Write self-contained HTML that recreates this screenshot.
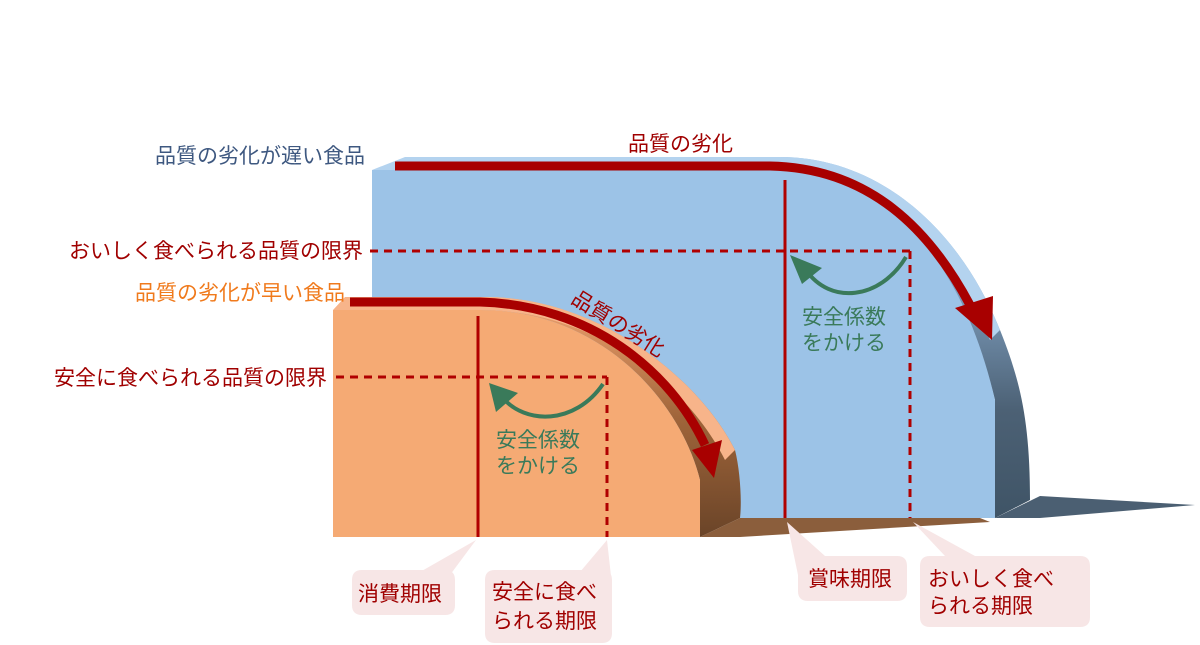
<!DOCTYPE html>
<html><head><meta charset="utf-8"><style>
html,body{margin:0;padding:0;background:#fff;width:1200px;height:645px;overflow:hidden}
svg{display:block}
text{font-family:"Liberation Sans","Noto Sans CJK JP",sans-serif}
</style></head><body>
<svg width="1200" height="645" viewBox="0 0 1200 645" xmlns="http://www.w3.org/2000/svg">
<defs>
<linearGradient id="bside" x1="0" y1="0" x2="0" y2="1">
<stop offset="0" stop-color="#9fc3e6"/><stop offset="0.35" stop-color="#7f9fbf"/><stop offset="0.7" stop-color="#4c6175"/><stop offset="1" stop-color="#3f5466"/></linearGradient>
<linearGradient id="oside" x1="0" y1="0" x2="0" y2="1">
<stop offset="0" stop-color="#f2a470"/><stop offset="0.5" stop-color="#a0653a"/><stop offset="1" stop-color="#6a4428"/></linearGradient>
</defs>
<polygon points="995,518 1040,496 1195,505 1040,518" fill="#4b5f72"/>
<path d="M405,157 L780,157 C880,157 960,230 1000,330 C1020,380 1030,420 1030,500 L995,518 L995,400 C970,300 900,170 770,170 Z" fill="url(#bside)"/>
<path d="M372,170 L405,157 L780,157 C880,157 960,230 1000,330 L990,340 C950,240 880,170 770,170 Z" fill="#b4d3ef"/>
<path d="M372,170 L770,170 C880,170 960,250 995,400 L995,518 L372,518 Z" fill="#9cc3e7"/>
<polygon points="700,537 740,518 980,518 990,522 740,537" fill="#8b5e3c"/>
<path d="M345,297 L485,297 C600,297 700,380 735,450 C740,470 742,500 740,518 L700,537 L700,480 C680,400 600,310 480,310 Z" fill="url(#oside)"/>
<path d="M333,310 L345,297 L485,297 C600,297 700,380 735,450 L725,460 C690,390 600,310 480,310 Z" fill="#f7b48a"/>
<path d="M333,310 L480,310 C600,310 680,400 700,480 L700,537 L333,537 Z" fill="#f5aa74"/>
<path d="M395,166 L770,166 C870,168 930,230 970,305" fill="none" stroke="#a80000" stroke-width="9"/>
<polygon points="955,308 993,296 992,340" fill="#a80000"/>
<path d="M350,302 L480,302 C590,305 670,370 705,445" fill="none" stroke="#a80000" stroke-width="9"/>
<polygon points="692,450 722,440 714,478" fill="#a80000"/>
<line x1="785" y1="180" x2="785" y2="518" stroke="#b00000" stroke-width="3"/>
<line x1="370" y1="251" x2="910" y2="251" stroke="#b00000" stroke-width="3" stroke-dasharray="8,6"/>
<line x1="910" y1="251" x2="910" y2="518" stroke="#b00000" stroke-width="3" stroke-dasharray="8,6"/>
<line x1="478" y1="316" x2="478" y2="537" stroke="#b00000" stroke-width="3"/>
<line x1="336" y1="377" x2="607" y2="377" stroke="#b00000" stroke-width="3" stroke-dasharray="8,6"/>
<line x1="607" y1="377" x2="607" y2="537" stroke="#b00000" stroke-width="3" stroke-dasharray="8,6"/>
<path d="M906,257 C880,300 830,305 806,270" fill="none" stroke="#3a7a5a" stroke-width="4"/>
<polygon points="790,255 822,268 802,284" fill="#3a7a5a"/>
<path d="M603,384 C575,425 525,425 502,397" fill="none" stroke="#3a7a5a" stroke-width="4"/>
<polygon points="489,383 518,393 496,412" fill="#3a7a5a"/>
<g font-size="21">
<text x="365" y="163" fill="#3e5880" text-anchor="end">品質の劣化が遅い食品</text>
<text x="363" y="258" fill="#a00000" text-anchor="end">おいしく食べられる品質の限界</text>
<text x="345" y="300" fill="#f07a1c" text-anchor="end">品質の劣化が早い食品</text>
<text x="327" y="385" fill="#a00000" text-anchor="end">安全に食べられる品質の限界</text>
<text x="628" y="151" fill="#a00000">品質の劣化</text>
<text x="0" y="0" fill="#a00000" transform="translate(570,302) rotate(32)">品質の劣化</text>
<text x="802" y="324" fill="#3a7a5a">安全係数</text>
<text x="802" y="350" fill="#3a7a5a">をかける</text>
<text x="496" y="447" fill="#3a7a5a">安全係数</text>
<text x="496" y="473" fill="#3a7a5a">をかける</text>
</g>
<g fill="#f7e6e6">
<path d="M362,570 L445,570 Q455,570 455,580 L455,605 Q455,615 445,615 L362,615 Q352,615 352,605 L352,580 Q352,570 362,570 Z M420,572 L476,540 L450,575 Z"/>
<path d="M495,570 L602,570 Q612,570 612,580 L612,633 Q612,643 602,643 L495,643 Q485,643 485,633 L485,580 Q485,570 495,570 Z M580,572 L607,540 L612,585 Z"/>
<path d="M808,556 L897,556 Q907,556 907,566 L907,591 Q907,601 897,601 L808,601 Q798,601 798,591 L798,566 Q798,556 808,556 Z M798,575 L787,522 L825,556 Z"/>
<path d="M930,556 L1080,556 Q1090,556 1090,566 L1090,617 Q1090,627 1080,627 L930,627 Q920,627 920,617 L920,566 Q920,556 930,556 Z M945,556 L913,522 L975,556 Z"/>
</g>
<g font-size="21" fill="#a00000">
<text x="358" y="601">消費期限</text>
<text x="492" y="599">安全に食べ</text>
<text x="492" y="628">られる期限</text>
<text x="808" y="586">賞味期限</text>
<text x="928" y="586">おいしく食べ</text>
<text x="928" y="613">られる期限</text>
</g>
</svg>
</body></html>
